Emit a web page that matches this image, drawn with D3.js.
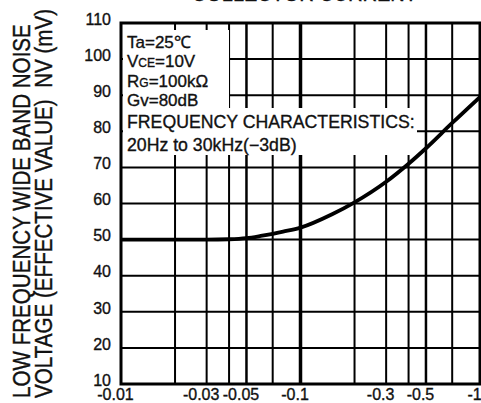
<!DOCTYPE html>
<html>
<head>
<meta charset="utf-8">
<script src="https://cdn.jsdelivr.net/npm/d3@7"></script>
<style>
  html, body { margin: 0; padding: 0; background: #fff; }
  svg { display: block; }
  text { font-family: "Liberation Sans", Arial, Helvetica, sans-serif; fill: #111; stroke: #111; stroke-width: 0.35px; }
</style>
</head>
<body>
<svg id="chart" width="481" height="403"></svg>
<script>
// ---- data ----
const current = [0.01, 0.02, 0.03, 0.04, 0.05, 0.06, 0.07, 0.08, 0.1, 0.15, 0.2, 0.3, 0.4, 0.5, 0.7, 1.0];
const noise   = [50, 50, 50, 50.1, 50.4, 51, 51.6, 52.2, 53.3, 57, 60.3, 66, 71, 75.3, 82.3, 89.5];
const xGrid = [0.02, 0.03, 0.04, 0.05, 0.07, 0.1, 0.2, 0.3, 0.4, 0.5, 0.7];
const xTickValues = [0.01, 0.03, 0.05, 0.1, 0.3, 0.5, 1];
const xTickLabels = ["-0.01", "-0.03", "-0.05", "-0.1", "-0.3", "-0.5", "-1"];
const yTickValues = [10, 20, 30, 40, 50, 60, 70, 80, 90, 100, 110];
const yTitle = ["LOW FREQUENCY WIDE BAND NOISE", "VOLTAGE (EFFECTIVE VALUE)  NV (mV)"];
const topTitle = "COLLECTOR CURRENT";

const svg = d3.select("#chart");
const L = 121, R = 480, T = 23, B = 384;
const x = d3.scaleLog().domain([0.01, 1]).range([L, R]);
const y = d3.scaleLinear().domain([10, 110]).range([B, T]);

// clipped top title (only bottom sliver visible)
svg.append("text").attr("x", 417).attr("y", 1).attr("text-anchor", "end")
  .attr("font-size", 20).text(topTitle);

// grid
const g = svg.append("g");
g.selectAll("line.v").data(xGrid).enter().append("line")
  .attr("x1", d => x(d)).attr("x2", d => x(d)).attr("y1", T).attr("y2", B)
  .attr("stroke", "#000")
  .attr("stroke-width", d => d === 0.1 ? 3.5 : (d === 0.05 || d === 0.5 ? 2.5 : 2));
g.selectAll("line.h").data(yTickValues.slice(1, -1)).enter().append("line")
  .attr("x1", L).attr("x2", R).attr("y1", d => y(d)).attr("y2", d => y(d))
  .attr("stroke", "#000").attr("stroke-width", 2);

// white masks behind the annotation text
svg.append("rect").attr("x", L + 2).attr("y", 30).attr("width", 106).attr("height", 125).attr("fill", "#fff");
svg.append("rect").attr("x", L + 2).attr("y", 108).attr("width", 294).attr("height", 47).attr("fill", "#fff");

// frame
svg.append("rect").attr("x", L).attr("y", T).attr("width", R - L).attr("height", B - T)
  .attr("fill", "none").attr("stroke", "#000").attr("stroke-width", 3);

// curve
const line = d3.line().x((d, i) => x(current[i])).y(d => y(d)).curve(d3.curveMonotoneX);
svg.append("path").datum(noise).attr("d", line)
  .attr("fill", "none").attr("stroke", "#000").attr("stroke-width", 3.8);

// y axis labels
const yAxis = d3.axisLeft(y).tickValues(yTickValues).tickSize(0).tickPadding(0).tickFormat(d3.format("d"));
const ya = svg.append("g").attr("transform", `translate(${L - 10},0)`).call(yAxis);
ya.select(".domain").remove();
ya.selectAll("text").attr("font-size", 16).attr("dy", "0.08em")
  .style("font-family", '"Liberation Sans", Arial, sans-serif').attr("fill", "#111");

// x axis labels
const xAxis = d3.axisBottom(x).tickValues(xTickValues).tickSize(0).tickPadding(0)
  .tickFormat((d, i) => xTickLabels[i]);
const xa = svg.append("g").attr("transform", `translate(-6,${B + 5})`).call(xAxis);
xa.select(".domain").remove();
xa.selectAll("text").attr("font-size", 16).attr("dy", "0.71em")
  .style("font-family", '"Liberation Sans", Arial, sans-serif').attr("fill", "#111");

// annotation
const ann = svg.append("g").attr("font-size", 17);
const ax = 127;
ann.append("text").attr("x", ax).attr("y", 47.5).text("Ta=25℃");
const v = ann.append("text").attr("x", ax).attr("y", 67);
v.append("tspan").text("V");
v.append("tspan").attr("font-size", 12).text("CE");
v.append("tspan").text("=10V");
const r = ann.append("text").attr("x", ax).attr("y", 86.5);
r.append("tspan").text("R");
r.append("tspan").attr("font-size", 12).text("G");
r.append("tspan").text("=100kΩ");
ann.append("text").attr("x", ax).attr("y", 106).text("Gv=80dB");
ann.append("text").attr("x", ax).attr("y", 128).attr("font-size", 17.7).text("FREQUENCY CHARACTERISTICS:");
ann.append("text").attr("x", ax).attr("y", 151).attr("font-size", 17.7).text("20Hz to 30kHz(−3dB)");

// y title (two rotated lines, glyphs stretched tall)
const tpos = [{bx: 30}, {bx: 52}];
yTitle.forEach((t, i) => {
  svg.append("text")
    .attr("transform", `translate(${tpos[i].bx},398) rotate(-90) scale(1,1.2)`)
    .attr("font-size", 20.6)
    .style("white-space", "pre")
    .text(t);
});
</script>
</body>
</html>
